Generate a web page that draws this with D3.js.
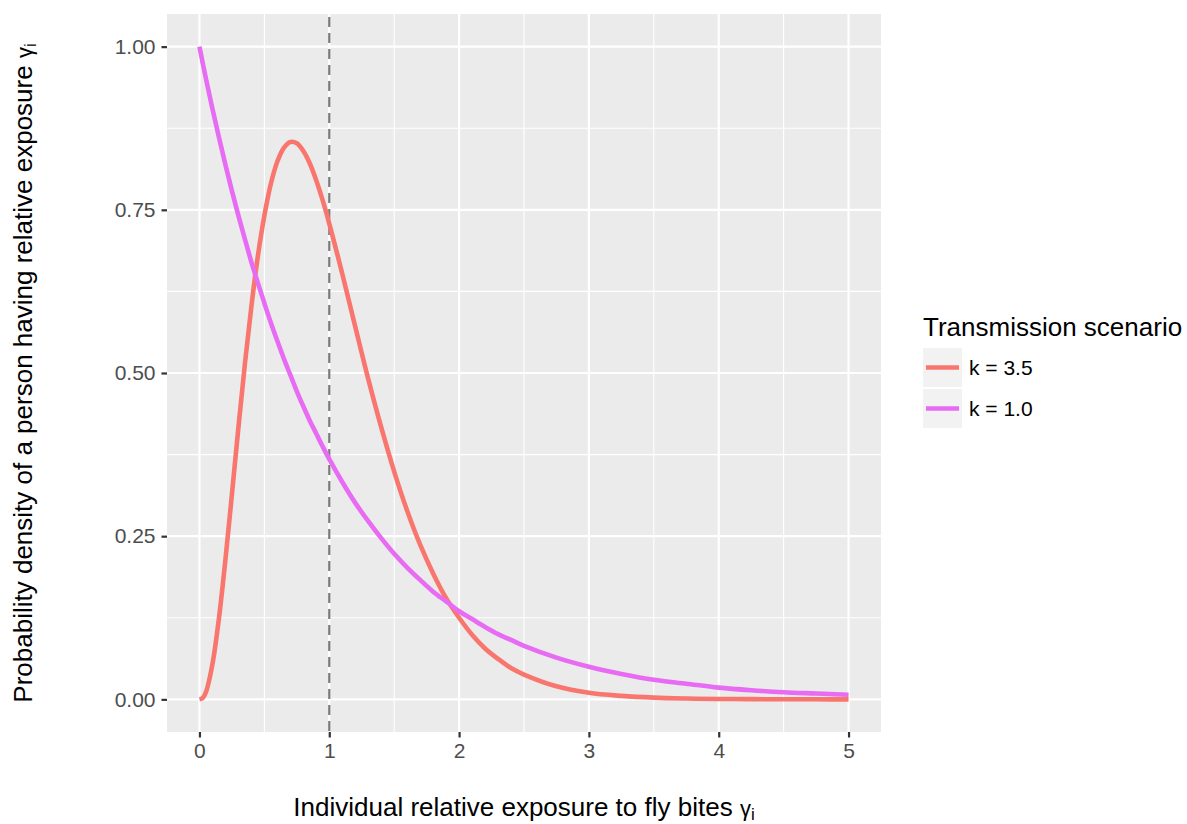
<!DOCTYPE html>
<html>
<head>
<meta charset="utf-8">
<script src="https://cdn.jsdelivr.net/npm/d3@7"></script>
<style>
  body { margin: 0; background: #fff; }
  svg text { font-family: "Liberation Sans", Arial, Helvetica, sans-serif; }
</style>
</head>
<body>
<div class="container"></div>
<script>
let width = 1187
let height = 824
let margin = { left: 167, right: 306, top: 14, bottom: 92 }

// values
const xs = [0, 0.025, 0.05, 0.1, 0.15, 0.2, 0.25, 0.3, 0.35, 0.4, 0.45, 0.5, 0.55, 0.6, 0.65, 0.7, 0.75, 0.8, 0.85, 0.9, 0.95, 1.0, 1.1, 1.2, 1.3, 1.4, 1.5, 1.6, 1.7, 1.8, 1.9, 2.0, 2.1, 2.2, 2.3, 2.4, 2.5, 2.75, 3.0, 3.25, 3.5, 3.75, 4.0, 4.25, 4.5, 4.75, 5.0]
const k35 = [0, 0.002, 0.011, 0.054, 0.124, 0.214, 0.314, 0.416, 0.514, 0.602, 0.679, 0.741, 0.790, 0.824, 0.845, 0.854, 0.852, 0.840, 0.821, 0.795, 0.764, 0.729, 0.652, 0.571, 0.491, 0.417, 0.349, 0.289, 0.237, 0.193, 0.155, 0.125, 0.099, 0.078, 0.062, 0.048, 0.038, 0.020, 0.010, 0.0053, 0.0026, 0.0013, 0.0006, 0.0003, 0.00015, 0.00007, 0.00003]
const k10 = [1, 0.975, 0.951, 0.905, 0.861, 0.819, 0.779, 0.741, 0.705, 0.670, 0.638, 0.607, 0.577, 0.549, 0.522, 0.497, 0.472, 0.449, 0.427, 0.407, 0.387, 0.368, 0.333, 0.301, 0.273, 0.247, 0.223, 0.202, 0.183, 0.165, 0.150, 0.135, 0.123, 0.111, 0.100, 0.091, 0.082, 0.064, 0.050, 0.039, 0.030, 0.024, 0.018, 0.014, 0.011, 0.009, 0.007]
const seriesNames = ['k = 3.5', 'k = 1.0']
const colours = ['#F8766D', '#E76BF3']
const xTicks = [0, 1, 2, 3, 4, 5]
const yTicks = [0, 0.25, 0.5, 0.75, 1]
const refLine = 1

let series = [k35, k10]

let svg = d3.select('.container')
    .append('svg')
    .attr('width', width)
    .attr('height', height)

let xScale = d3.scaleLinear()
    .domain([-0.25, 5.25])
    .range([margin.left, width - margin.right])

let yScale = d3.scaleLinear()
    .domain([-0.05, 1.05])
    .range([height - margin.bottom, margin.top])

// panel
svg.append('rect')
    .attr('x', xScale(-0.25))
    .attr('y', yScale(1.05))
    .attr('width', xScale(5.25) - xScale(-0.25))
    .attr('height', yScale(-0.05) - yScale(1.05))
    .attr('fill', '#EBEBEB')

let minorX = [0.5, 1.5, 2.5, 3.5, 4.5]
let minorY = [0.125, 0.375, 0.625, 0.875]

svg.selectAll('.minorx')
    .data(minorX)
    .enter()
    .append('line')
    .attr('x1', d => xScale(d)).attr('x2', d => xScale(d))
    .attr('y1', yScale(1.05)).attr('y2', yScale(-0.05))
    .attr('stroke', '#fff').attr('stroke-width', 1.1)

svg.selectAll('.minory')
    .data(minorY)
    .enter()
    .append('line')
    .attr('y1', d => yScale(d)).attr('y2', d => yScale(d))
    .attr('x1', xScale(-0.25)).attr('x2', xScale(5.25))
    .attr('stroke', '#fff').attr('stroke-width', 1.1)

svg.selectAll('.majorx')
    .data(xTicks)
    .enter()
    .append('line')
    .attr('x1', d => xScale(d)).attr('x2', d => xScale(d))
    .attr('y1', yScale(1.05)).attr('y2', yScale(-0.05))
    .attr('stroke', '#fff').attr('stroke-width', 2.2)

svg.selectAll('.majory')
    .data(yTicks)
    .enter()
    .append('line')
    .attr('y1', d => yScale(d)).attr('y2', d => yScale(d))
    .attr('x1', xScale(-0.25)).attr('x2', xScale(5.25))
    .attr('stroke', '#fff').attr('stroke-width', 2.2)

// dashed reference line
svg.append('line')
    .attr('x1', xScale(refLine)).attr('x2', xScale(refLine))
    .attr('y1', yScale(1.05)).attr('y2', yScale(-0.05))
    .attr('stroke', '#7a7a7a')
    .attr('stroke-width', 2.2)
    .attr('stroke-dasharray', '10,6')
    .attr('stroke-dashoffset', -3)

let line = d3.line()
    .x((d, i) => xScale(xs[i]))
    .y(d => yScale(d))
    .curve(d3.curveCatmullRom.alpha(0.5))

svg.selectAll('.curve')
    .data(series)
    .enter()
    .append('path')
    .attr('d', d => line(d))
    .attr('fill', 'none')
    .attr('stroke', (d, i) => colours[i])
    .attr('stroke-width', 4.6)

// axes
let xAxis = d3.axisBottom(xScale)
    .tickValues(xTicks)
    .tickFormat(d3.format('d'))
    .tickSize(5.5)
    .tickPadding(6)

let yAxis = d3.axisLeft(yScale)
    .tickValues(yTicks)
    .tickFormat(d3.format('.2f'))
    .tickSize(5.5)
    .tickPadding(6)

let gx = svg.append('g')
    .attr('transform', `translate(0,${yScale(-0.05)})`)
    .call(xAxis)

let gy = svg.append('g')
    .attr('transform', `translate(${xScale(-0.25)},0)`)
    .call(yAxis)

for (let g of [gx, gy]) {
    g.select('.domain').remove()
    g.selectAll('.tick line').attr('stroke', '#333').attr('stroke-width', 2.2)
    g.selectAll('.tick text')
        .attr('fill', '#4D4D4D')
        .style('font-size', '21px')
        .style('font-family', '"Liberation Sans", Arial, sans-serif')
}

// axis titles
let xTitle = svg.append('text')
    .attr('x', (xScale(-0.25) + xScale(5.25)) / 2)
    .attr('y', 816)
    .attr('text-anchor', 'middle')
    .style('font-size', '26px')
    .attr('fill', '#000')
xTitle.append('tspan').text('Individual relative exposure to fly bites ')
xTitle.append('tspan').style('font-size', '22px').text('γ')
xTitle.append('tspan').attr('baseline-shift', '-22%').style('font-size', '17px').text('i')

let yTitle = svg.append('text')
    .attr('transform', `translate(32,${(yScale(1.05) + yScale(-0.05)) / 2}) rotate(-90)`)
    .attr('text-anchor', 'middle')
    .style('font-size', '26px')
    .attr('fill', '#000')
yTitle.append('tspan').text('Probability density of a person having relative exposure ')
yTitle.append('tspan').style('font-size', '22px').text('γ')
yTitle.append('tspan').attr('baseline-shift', '-22%').style('font-size', '17px').text('i')

// legend
let legend = svg.append('g')
    .attr('transform', 'translate(923,0)')

legend.append('text')
    .attr('x', 0)
    .attr('y', 336)
    .style('font-size', '26px')
    .text('Transmission scenario')

let keys = legend.selectAll('.key')
    .data(seriesNames)
    .enter()
    .append('g')
    .attr('transform', (d, i) => `translate(0,${348 + i * 41})`)

keys.append('rect')
    .attr('width', 39)
    .attr('height', 39)
    .attr('fill', '#F2F2F2')

keys.append('line')
    .attr('x1', 3).attr('x2', 36)
    .attr('y1', 19.5).attr('y2', 19.5)
    .attr('stroke', (d, i) => colours[i])
    .attr('stroke-width', 4.6)

keys.append('text')
    .attr('x', 46)
    .attr('y', 27)
    .style('font-size', '21px')
    .text(d => d)
</script>
</body>
</html>
